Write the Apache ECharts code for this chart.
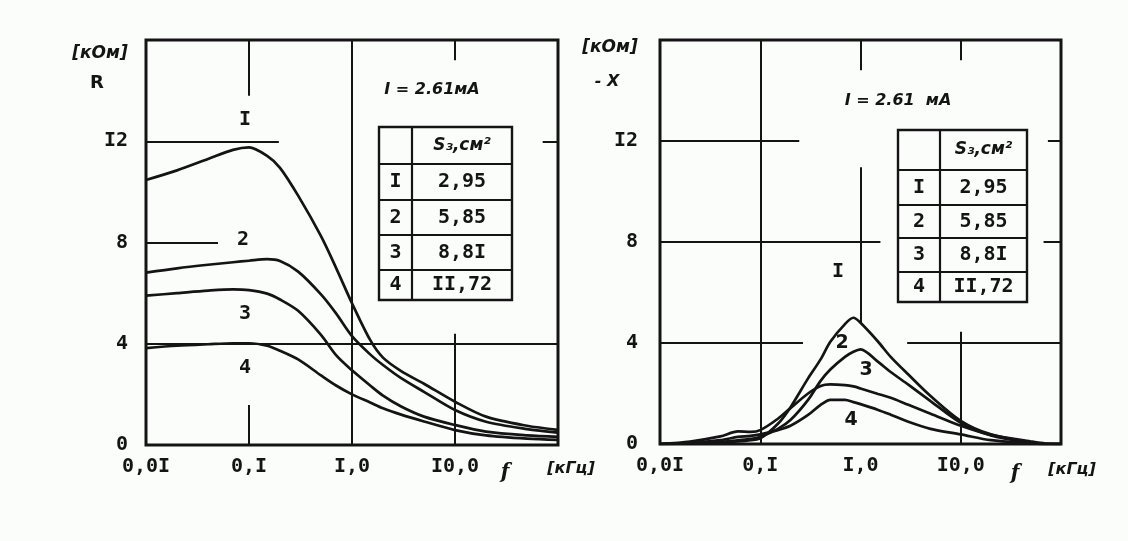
<!DOCTYPE html>
<html>
<head>
<meta charset="utf-8">
<script src="https://cdn.jsdelivr.net/npm/echarts@6/dist/echarts.min.js"></script>
<style>
html,body{margin:0;padding:0;background:#fbfdfb;}
#c{width:1128px;height:541px;}
</style>
</head>
<body>
<div id="c"></div>
<script>
// ---------- data ----------
const xTickLabels = ['0,0I', '0,I', 'I,0', 'I0,0', ''];
const yTickLabels = ['0', '4', '8', 'I2', ''];

// Left panel: R [kOm] vs f [kHz]
const freqR = [0.01, 0.02, 0.04, 0.07, 0.1, 0.15, 0.2, 0.3, 0.5, 0.7, 1, 1.5, 2, 3, 5, 10, 20, 50, 100];
const R1 = [10.47, 10.85, 11.3, 11.66, 11.76, 11.42, 10.95, 9.85, 8.25, 7.0, 5.6, 4.15, 3.45, 2.92, 2.42, 1.71, 1.12, 0.76, 0.6];
const R2 = [6.81, 6.98, 7.12, 7.22, 7.28, 7.34, 7.27, 6.85, 5.95, 5.2, 4.3, 3.58, 3.16, 2.64, 2.1, 1.38, 0.92, 0.63, 0.49];
const R3 = [5.9, 6.0, 6.1, 6.15, 6.12, 5.98, 5.75, 5.3, 4.35, 3.55, 2.95, 2.35, 1.95, 1.52, 1.12, 0.79, 0.53, 0.38, 0.32];
const R4 = [3.83, 3.92, 3.98, 4.02, 4.02, 3.92, 3.72, 3.38, 2.75, 2.35, 2.0, 1.68, 1.45, 1.2, 0.93, 0.59, 0.38, 0.25, 0.2];

// Right panel: -X [kOm] vs f [kHz]
const freqX = [0.01, 0.02, 0.04, 0.06, 0.08, 0.1, 0.15, 0.2, 0.3, 0.4, 0.5, 0.7, 0.85, 1, 1.5, 2, 3, 5, 10, 20, 50, 70, 100];
const X1 = [0, 0.02, 0.06, 0.1, 0.15, 0.22, 0.8, 1.45, 2.6, 3.35, 4.05, 4.75, 5.0, 4.8, 4.05, 3.45, 2.75, 1.9, 0.92, 0.38, 0.06, 0, 0];
const X2 = [0, 0.03, 0.08, 0.14, 0.2, 0.28, 0.6, 0.95, 1.75, 2.5, 2.95, 3.45, 3.65, 3.75, 3.25, 2.85, 2.35, 1.7, 0.84, 0.34, 0.05, 0, 0];
const X3 = [0, 0.1, 0.3, 0.5, 0.48, 0.55, 1.0, 1.42, 2.0, 2.3, 2.36, 2.33, 2.28, 2.2, 1.98, 1.83, 1.55, 1.2, 0.72, 0.36, 0.1, 0.02, 0];
const X4 = [0, 0.04, 0.15, 0.28, 0.32, 0.38, 0.55, 0.72, 1.15, 1.55, 1.75, 1.75, 1.66, 1.58, 1.35, 1.16, 0.88, 0.6, 0.38, 0.15, 0.03, 0, 0];

// table contents
const tableRows = ['I', '2', '3', '4'];
const tableVals = ['2,95', '5,85', '8,8I', 'II,72'];
const tableHeader = 'S\u2083,см\u00B2';

// ---------- styles ----------
const INK = '#141414';
const monoB = 'bold 20px "DejaVu Sans Mono"';
const handB = 'italic bold 16px "DejaVu Sans"';

function pairs(fs, vs) { return fs.map((f, i) => [f, vs[i]]); }
function seg(x1, y1, x2, y2) { return [{ coord: [x1, y1] }, { coord: [x2, y2] }]; }

const gridLeft = { left: 146, right: 570, top: 40, bottom: 96 };
const gridRight = { left: 660, right: 67, top: 40, bottom: 97 };

function makeX(gi) {
  return {
    type: 'log', logBase: 10, gridIndex: gi, min: 0.01, max: 100,
    axisLine: { show: false }, axisTick: { show: false }, splitLine: { show: false },
    minorTick: { show: false }, minorSplitLine: { show: false },
    axisLabel: {
      margin: 12, color: INK, fontFamily: 'DejaVu Sans Mono', fontWeight: 'bold', fontSize: 20,
      formatter: v => xTickLabels[Math.round(Math.log10(v)) + 2] || ''
    }
  };
}
function makeY(gi, margin) {
  return {
    type: 'value', gridIndex: gi, min: 0, max: 16, interval: 4,
    axisLine: { show: false }, axisTick: { show: false }, splitLine: { show: false },
    axisLabel: {
      margin: margin, color: INK, fontFamily: 'DejaVu Sans Mono', fontWeight: 'bold', fontSize: 20,
      formatter: v => yTickLabels[Math.round(v / 4)] || ''
    }
  };
}

function curve(name, gi, fs, vs, ml) {
  const s = {
    name: name, type: 'line', xAxisIndex: gi, yAxisIndex: gi,
    data: pairs(fs, vs), smooth: 0.3, showSymbol: false, symbol: 'none',
    lineStyle: { color: INK, width: 2.7 }, silent: true, animation: false
  };
  if (ml) {
    s.markLine = {
      silent: true, symbol: ['none', 'none'], label: { show: false },
      lineStyle: { color: INK, width: 2, type: 'solid' }, animation: false,
      data: ml
    };
  }
  return s;
}

const leftGridLines = [
  seg(0.01, 12, 0.195, 12), seg(71, 12, 100, 12),
  seg(0.01, 8, 0.05, 8),
  seg(0.01, 4, 100, 4),
  seg(0.1, 16, 0.1, 13.8), seg(0.1, 0, 0.1, 1.58),
  seg(1, 0, 1, 16),
  seg(10, 16, 10, 15.2), seg(10, 0, 10, 4.4)
];
const rightGridLines = [
  seg(0.01, 12, 0.245, 12), seg(74, 12, 100, 12),
  seg(0.01, 8, 1.58, 8), seg(67, 8, 100, 8),
  seg(0.01, 4, 0.267, 4), seg(2.92, 4, 100, 4),
  seg(0.1, 0, 0.1, 16),
  seg(1, 16, 1, 14.8), seg(1, 10.96, 1, 4.75),
  seg(10, 16, 10, 15.2), seg(10, 0, 10, 4.45)
];

// ---------- graphic decorations (tables / annotations) ----------
function txt(t, x, y, font, align) {
  return { type: 'text', silent: true, style: { text: t, x: x, y: y, font: font, fill: INK, textAlign: align || 'center', textVerticalAlign: 'middle' } };
}
function ln(x1, y1, x2, y2, w) {
  return { type: 'line', silent: true, shape: { x1, y1, x2, y2 }, style: { stroke: INK, lineWidth: w || 2.2 } };
}
function table(x0, xc, x2, rowsY) {
  const els = [];
  els.push({ type: 'rect', silent: true, shape: { x: x0, y: rowsY[0], width: x2 - x0, height: rowsY[5] - rowsY[0] }, style: { fill: 'none', stroke: INK, lineWidth: 2.4 } });
  for (let i = 1; i < 5; i++) els.push(ln(x0, rowsY[i], x2, rowsY[i]));
  els.push(ln(xc, rowsY[0], xc, rowsY[5]));
  const c1 = (x0 + xc) / 2, c2 = (xc + x2) / 2;
  els.push(txt(tableHeader, c2, (rowsY[0] + rowsY[1]) / 2, 'italic bold 17px "DejaVu Sans"'));
  for (let i = 0; i < 4; i++) {
    const cy = (rowsY[i + 1] + rowsY[i + 2]) / 2;
    els.push(txt(tableRows[i], c1, cy, monoB));
    els.push(txt(tableVals[i], c2, cy, monoB));
  }
  return els;
}

const graphics = [].concat(
  // left panel annotations
  txt('[кОм]', 100, 54, 'italic bold 17px "DejaVu Sans"'), txt('R', 97, 83, 'bold 18px "DejaVu Sans"'),
  txt('f', 505, 473, 'italic bold 20px "DejaVu Serif"'), txt('[кГц]', 571, 469, handB),
  txt('I = 2.61мА', 432, 90, handB),
  table(379, 412, 512, [127, 164, 200, 235, 270, 300]),
  txt('I', 245, 120, monoB), txt('2', 243, 240, monoB), txt('3', 245, 314, monoB), txt('4', 245, 368, monoB),
  // right panel annotations
  txt('[кОм]', 610, 48, 'italic bold 17px "DejaVu Sans"'), txt('- X', 607, 82, handB),
  txt('f', 1015, 474, 'italic bold 20px "DejaVu Serif"'), txt('[кГц]', 1072, 470, handB),
  txt('I = 2.61  мА', 898, 101, handB),
  table(898, 940, 1027, [130, 170, 205, 238, 272, 302]),
  txt('I', 838, 272, monoB), txt('2', 842, 343, 'bold 19px "DejaVu Sans"'), txt('3', 866, 370, 'bold 19px "DejaVu Sans"'), txt('4', 851, 420, 'bold 19px "DejaVu Sans"')
);

const chart = echarts.init(document.getElementById('c'), null, { renderer: 'canvas' });
chart.setOption({
  backgroundColor: '#fbfdfb',
  animation: false,
  grid: [
    Object.assign({ show: true, borderColor: INK, borderWidth: 3, backgroundColor: 'transparent' }, gridLeft),
    Object.assign({ show: true, borderColor: INK, borderWidth: 3, backgroundColor: 'transparent' }, gridRight)
  ],
  xAxis: [makeX(0), makeX(1)],
  yAxis: [makeY(0, 18), makeY(1, 22)],
  series: [
    curve('R1', 0, freqR, R1, leftGridLines),
    curve('R2', 0, freqR, R2),
    curve('R3', 0, freqR, R3),
    curve('R4', 0, freqR, R4),
    curve('X1', 1, freqX, X1, rightGridLines),
    curve('X2', 1, freqX, X2),
    curve('X3', 1, freqX, X3),
    curve('X4', 1, freqX, X4)
  ],
  graphic: graphics
});
</script>
</body>
</html>
